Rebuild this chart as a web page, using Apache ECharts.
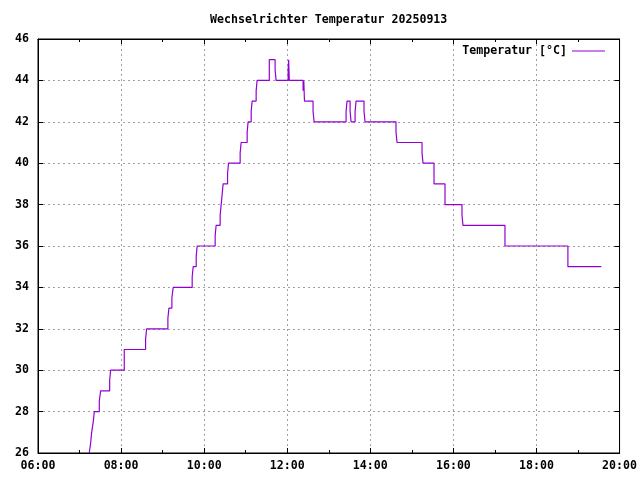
<!DOCTYPE html>
<html>
<head>
<meta charset="utf-8">
<script src="https://cdn.jsdelivr.net/npm/echarts@6/dist/echarts.min.js"></script>
<style>html,body{margin:0;padding:0;background:#fff}#c{width:640px;height:480px}</style>
</head>
<body>
<div id="c"></div>
<script>
const titleText = 'Wechselrichter Temperatur 20250913';
const seriesName = 'Temperatur [°C]';
const times = [
 '07:14:00','07:16:06','07:17:30','07:19:48','07:21:18','07:28:30','07:30:30','07:43:30','07:44:54',
 '08:04:36','08:35:24','08:36:54','09:07:36','09:09:06','09:13:24','09:15:18','09:42:42','09:44:06',
 '09:48:30','09:49:54','10:15:54','10:17:18','10:23:06','10:24:36','10:26:00','10:27:24','10:33:48',
 '10:35:12','10:52:00','10:53:24','11:02:06','11:03:30','11:07:54','11:09:18','11:15:06','11:16:30',
 '11:34:06','11:42:30','11:43:54','12:01:18','12:02:00','12:03:00','12:22:54','12:23:54','12:24:54',
 '12:37:18','12:38:48','13:25:00','13:26:24','13:30:48','13:32:12','13:38:00','13:39:24','13:50:54',
 '13:52:24','14:37:06','14:38:36','15:14:42','15:16:06','15:32:00','15:47:54','16:12:24','16:13:48',
 '17:14:30','18:45:24','19:33:36'
];
const temps = [
 26,26.5,27,27.5,28,28.5,29,29.5,30,
 31,31.5,32,32.5,33,33.5,34,34.5,35,
 35.5,36,36.5,37,37.5,38,38.5,39,39.5,
 40,40.5,41,41.5,42,42.5,43,43.5,44,
 45,44.5,44,44.5,45,44,43.5,44,43,
 42.5,42,42.5,43,42.5,42,42.5,43,42.5,
 42,41.5,41,40.5,40,39,38,37.5,37,
 36,35,35
];
const xMin = '06:00', xMax = '20:00', xStepHours = 2;
const yMin = 26, yMax = 46, yStep = 2;

function toMin(s){const p=s.split(':').map(Number);return p[0]*60+p[1]+(p[2]||0)/60;}
function fmt(m){const h=Math.floor(m/60),mm=Math.round(m%60);return String(h).padStart(2,'0')+':'+String(mm).padStart(2,'0');}

const data = times.map((t,i)=>[toMin(t),temps[i]]);
const font = 'DejaVu Sans Mono';
const txt = {fontFamily:font,fontSize:11.6,fontWeight:'bold',color:'#000'};
const grid = {type:[2,3],color:'#a0a0a0',width:1};

const chart = echarts.init(document.getElementById('c'),null,{renderer:'canvas'});
chart.setOption({
  animation:false,
  backgroundColor:'#fff',
  title:{text:titleText,left:210,top:14,padding:0,textStyle:Object.assign({},txt)},
  legend:{data:[seriesName],right:30,top:40,align:'right',icon:'rect',itemWidth:33,itemHeight:1,
    textStyle:Object.assign({},txt),itemStyle:{color:'#9400d3'}},
  grid:{left:38,right:20,top:39,bottom:27,show:true,borderColor:'#000',borderWidth:1,backgroundColor:'transparent'},
  xAxis:[
    {type:'value',min:toMin(xMin),max:toMin(xMax),interval:xStepHours*60,
     axisLine:{show:true,lineStyle:{color:'#000'}},
     axisTick:{show:true,inside:true,length:5,lineStyle:{color:'#000'}},
     minorTick:{show:true,splitNumber:2,length:3,lineStyle:{color:'#000'}},
     axisLabel:Object.assign({formatter:v=>fmt(v),margin:7},txt),
     splitLine:{show:true,lineStyle:grid}},
    {type:'value',position:'top',min:toMin(xMin),max:toMin(xMax),interval:xStepHours*60,
     axisLine:{show:true,lineStyle:{color:'#000'}},
     axisTick:{show:true,inside:true,length:5,lineStyle:{color:'#000'}},
     minorTick:{show:true,splitNumber:2,length:3,lineStyle:{color:'#000'}},
     axisLabel:{show:false},splitLine:{show:false}}
  ],
  yAxis:[
    {type:'value',min:yMin,max:yMax,interval:yStep,
     axisLine:{show:true,lineStyle:{color:'#000'}},
     axisTick:{show:true,inside:true,length:5,lineStyle:{color:'#000'}},
     axisLabel:Object.assign({margin:9},txt),
     splitLine:{show:true,lineStyle:grid}},
    {type:'value',position:'right',min:yMin,max:yMax,interval:yStep,
     axisLine:{show:true,lineStyle:{color:'#000'}},
     axisTick:{show:true,inside:true,length:5,lineStyle:{color:'#000'}},
     axisLabel:{show:false},splitLine:{show:false}}
  ],
  series:[{name:seriesName,type:'line',step:'end',data:data,showSymbol:false,symbol:'none',
    xAxisIndex:0,yAxisIndex:0,clip:true,
    lineStyle:{color:'#9400d3',width:1.2},itemStyle:{color:'#9400d3'}}]
});
</script>
</body>
</html>
